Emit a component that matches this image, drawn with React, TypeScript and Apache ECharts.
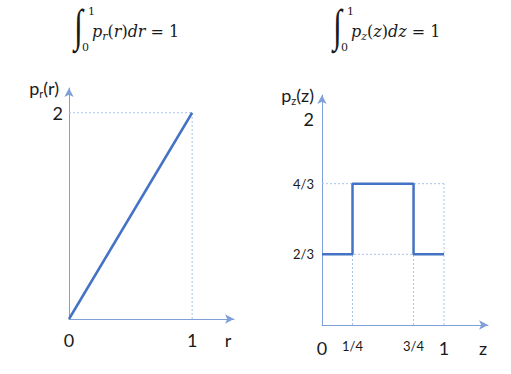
import React, { useEffect, useRef } from "react";
import * as echarts from "echarts";

// Left panel: p_r(r) = 2r on [0,1]
const rX = [0, 1];
const rY = [0, 2];
const rXTicks = [0, 1];
const rXTickLabels = ["0", "1"];
const rYTicks = [2];
const rYTickLabels = ["2"];

// Right panel: step density p_z(z)
const zX = [0, 0.25, 0.25, 0.75, 0.75, 1];
const zY = [2 / 3, 2 / 3, 4 / 3, 4 / 3, 2 / 3, 2 / 3];
const zXTicks = [0, 0.25, 0.75, 1];
const zXTickLabels = ["0", "1/4", "3/4", "1"];
const zYTicks = [2 / 3, 4 / 3, 2];
const zYTickLabels = ["2/3", "4/3", "2"];

// Dotted guide segments [x1, y1, x2, y2]
const rGuides = [
  [0, 2, 1, 2],
  [1, 0, 1, 2],
];
const zGuides = [
  [0, 4 / 3, 1, 4 / 3],
  [0, 2 / 3, 1, 2 / 3],
  [0.25, 0, 0.25, 2 / 3],
  [0.75, 0, 0.75, 2 / 3],
  [1, 0, 1, 4 / 3],
];

const LINE = "#4472C4";
const AXIS = "#7f9fd9";
const GUIDE = "#a8c3ee";
const TEXT = "#1a1a1a";
const FONT = "Lato, 'Open Sans', sans-serif";
const MATH = "'DejaVu Serif', 'Liberation Serif', serif";

function labelFormatter(ticks: number[], labels: string[]) {
  return (v: number) => {
    const i = ticks.findIndex((t) => Math.abs(t - v) < 1e-6);
    if (i < 0) return "";
    const s = labels[i];
    if (s === "2" && ticks.length === 3) return `{b2|${s}}`;
    return s.includes("/") ? `{s|${s}}` : `{b|${s}}`;
  };
}

const tickRich = {
  b: { fontSize: 18, color: TEXT, fontFamily: FONT },
  b2: { fontSize: 18, color: TEXT, fontFamily: FONT, padding: [12, 0, 0, 0] },
  s: { fontSize: 13, color: TEXT, fontFamily: FONT },
};

function axisLineStyle() {
  return {
    show: true,
    onZero: false,
    symbol: ["none", "arrow"],
    symbolSize: [7, 9],
    lineStyle: { color: AXIS, width: 1 },
  };
}

function nameRich() {
  return {
    n: { fontSize: 18, color: TEXT, fontFamily: FONT, lineHeight: 22 },
    sub: { fontSize: 11, color: TEXT, fontFamily: FONT, verticalAlign: "bottom", lineHeight: 22 },
  };
}

function formula(x: number, v: string) {
  return [
    {
      type: "text",
      x: x,
      y: 3,
      scaleY: 1.42,
      style: { text: "∫", font: `32px 'Liberation Serif', serif`, fill: TEXT },
    },
    {
      type: "text",
      x: x + 14,
      y: 6,
      style: { text: "1", font: `11px ${MATH}`, fill: TEXT },
    },
    {
      type: "text",
      x: x + 8,
      y: 42,
      style: { text: "0", font: `11px ${MATH}`, fill: TEXT },
    },
    {
      type: "text",
      x: x + 18,
      y: 20,
      style: {
        text: `{i|p}{sub|${v}}{n|(}{i|${v}}{n|)}{i|d${v}}{n| = 1}`,
        rich: {
          i: { font: `italic 16px ${MATH}`, fill: TEXT, lineHeight: 22 },
          n: { font: `16px ${MATH}`, fill: TEXT, lineHeight: 22 },
          sub: { font: `italic 11px ${MATH}`, fill: TEXT, verticalAlign: "bottom", lineHeight: 22 },
        },
      },
    },
  ];
}

function guideSeries(guides: number[][], idx: number) {
  return guides.map((g) => ({
    type: "line",
    xAxisIndex: idx,
    yAxisIndex: idx,
    data: [
      [g[0], g[1]],
      [g[2], g[3]],
    ],
    symbol: "none",
    silent: true,
    z: 1,
    lineStyle: { color: GUIDE, width: 1, type: [2, 2] },
  }));
}

export default function App() {
  const ref = useRef<HTMLDivElement>(null);
  useEffect(() => {
    if (!ref.current) return;
    const chart = echarts.init(ref.current, undefined, { renderer: "svg" });
    chart.setOption({
      animation: false,
      backgroundColor: "#ffffff",
      grid: [
        { left: 69, top: 88, width: 165, height: 231 },
        { left: 322, top: 95, width: 166, height: 230 },
      ],
      xAxis: [
        {
          gridIndex: 0,
          type: "value",
          min: 0,
          max: 1.34,
          axisLine: axisLineStyle(),
          axisTick: { show: false },
          splitLine: { show: false },
          axisLabel: {
            customValues: rXTicks,
            formatter: labelFormatter(rXTicks, rXTickLabels),
            rich: tickRich,
            margin: 12,
            showMinLabel: true,
          },
          name: "r",
          nameLocation: "end",
          nameGap: -6,
          nameTextStyle: {
            fontSize: 18,
            color: TEXT,
            fontFamily: FONT,
            align: "center",
            verticalAlign: "top",
            padding: [12, 0, 0, 0],
          },
        },
        {
          gridIndex: 1,
          type: "value",
          min: 0,
          max: 1.36,
          axisLine: axisLineStyle(),
          axisTick: { show: false },
          splitLine: { show: false },
          axisLabel: {
            customValues: zXTicks,
            formatter: labelFormatter(zXTicks, zXTickLabels),
            rich: tickRich,
            margin: 14,
            showMinLabel: true,
          },
          name: "z",
          nameLocation: "end",
          nameGap: -5,
          nameTextStyle: {
            fontSize: 18,
            color: TEXT,
            fontFamily: FONT,
            align: "center",
            verticalAlign: "top",
            padding: [14, 0, 0, 0],
          },
        },
      ],
      yAxis: [
        {
          gridIndex: 0,
          type: "value",
          min: 0,
          max: 2.24,
          axisLine: axisLineStyle(),
          axisTick: { show: false },
          splitLine: { show: false },
          axisLabel: {
            customValues: rYTicks,
            formatter: labelFormatter(rYTicks, rYTickLabels),
            rich: tickRich,
            margin: 6,
          },
          name: "{n|p}{sub|r}{n|(r)}",
          nameLocation: "end",
          nameGap: 0,
          nameTextStyle: {
            align: "right",
            verticalAlign: "middle",
            padding: [0, 10, 0, 0],
            rich: nameRich(),
          },
        },
        {
          gridIndex: 1,
          type: "value",
          min: 0,
          max: 2.17,
          axisLine: axisLineStyle(),
          axisTick: { show: false },
          splitLine: { show: false },
          axisLabel: {
            customValues: zYTicks,
            formatter: labelFormatter(zYTicks, zYTickLabels),
            rich: tickRich,
            margin: 8,
          },
          name: "{n|p}{sub|z}{n|(z)}",
          nameLocation: "end",
          nameGap: 0,
          nameTextStyle: {
            align: "right",
            verticalAlign: "middle",
            padding: [0, 8, 0, 0],
            rich: nameRich(),
          },
        },
      ],
      series: [
        ...guideSeries(rGuides, 0),
        ...guideSeries(zGuides, 1),
        {
          type: "line",
          xAxisIndex: 0,
          yAxisIndex: 0,
          data: rX.map((x, i) => [x, rY[i]]),
          symbol: "none",
          z: 3,
          lineStyle: { color: LINE, width: 2.5 },
        },
        {
          type: "line",
          xAxisIndex: 1,
          yAxisIndex: 1,
          data: zX.map((x, i) => [x, zY[i]]),
          symbol: "none",
          z: 3,
          lineStyle: { color: LINE, width: 2.5 },
        },
      ],
      graphic: [...formula(74, "r"), ...formula(333, "z")],
    });
    return () => chart.dispose();
  }, []);
  return (
    <div
      ref={ref}
      style={{ position: "fixed", left: 0, top: 0, width: 511, height: 374, background: "#fff" }}
    />
  );
}
